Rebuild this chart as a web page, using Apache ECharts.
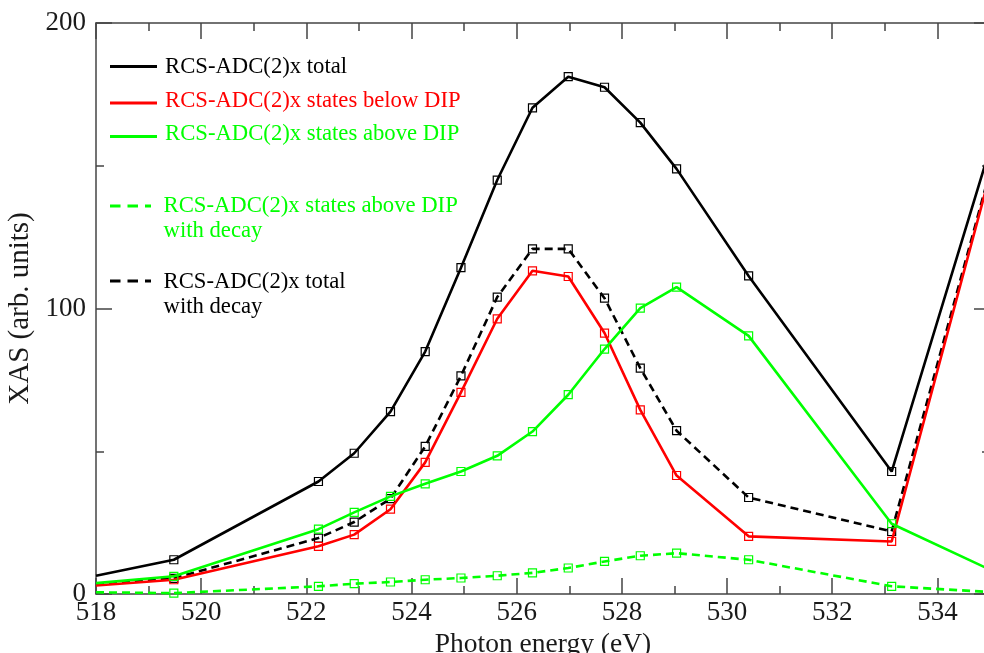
<!DOCTYPE html>
<html>
<head>
<meta charset="utf-8">
<script src="https://cdn.jsdelivr.net/npm/echarts@6/dist/echarts.min.js"></script>
<style>html,body{margin:0;padding:0;background:#fff;overflow:hidden}#c{width:984px;height:653px}</style>
</head>
<body>
<div id="c"></div>
<script>
// Photon energies (eV) of the computed points
const energies = [518, 519.48, 522.23, 522.91, 523.6, 524.26, 524.94, 525.63, 526.3, 526.98, 527.67, 528.35, 529.04, 530.41, 533.13, 535];
// XAS (arb. units)
const totalXAS      = [6.4, 12.0, 39.4, 49.3, 63.9, 84.9, 114.3, 145.0, 170.3, 181.2, 177.5, 165.1, 148.9, 111.4, 42.9, 156.0];
const belowDIP      = [3.0, 5.0, 16.7, 20.8, 29.7, 46.1, 70.6, 96.4, 113.2, 111.2, 91.4, 64.5, 41.5, 20.2, 18.4, 147.0];
const aboveDIP      = [3.8, 6.2, 22.7, 28.6, 34.2, 38.6, 42.9, 48.4, 56.9, 69.8, 85.8, 100.1, 107.5, 90.4, 24.6, 8.5];
const aboveDIPDecay = [0.6, 0.3, 2.7, 3.6, 4.2, 5.0, 5.6, 6.4, 7.4, 9.1, 11.4, 13.4, 14.3, 12.0, 2.7, 0.7];
const totalDecay    = [3.5, 5.5, 19.6, 25.2, 33.4, 51.7, 76.4, 104.0, 120.9, 120.9, 103.6, 79.1, 57.2, 33.8, 21.9, 148.0];

const xTickLabels = [518, 520, 522, 524, 526, 528, 530, 532, 534];
const yTickLabels = [0, 100, 200];

const legendTitles = [
  ['RCS-ADC(2)x total'],
  ['RCS-ADC(2)x states below DIP'],
  ['RCS-ADC(2)x states above DIP'],
  ['RCS-ADC(2)x states above DIP', 'with decay'],
  ['RCS-ADC(2)x total', 'with decay']
];

const BLACK = '#000000', RED = '#ff0000', GREEN = '#00ff00';
const AXIS = '#444444';
const FONT = '"Liberation Serif", "Times New Roman", serif';
const DASH = [8, 5];

function mkSeries(name, vals, color, dashed, z) {
  return {
    name: name,
    type: 'line',
    xAxisIndex: 0, yAxisIndex: 0,
    data: energies.map((x, i) => ({ value: [x, vals[i]], symbolSize: x <= 518 ? 0 : 8 })),
    symbol: 'rect',
    symbolSize: 8,
    showAllSymbol: true,
    clip: true,
    z: z,
    lineStyle: { color: color, width: 2.6, type: dashed ? DASH : 'solid' },
    itemStyle: { color: 'rgba(255,255,255,0)', borderColor: color, borderWidth: 1.2 },
    emphasis: { disabled: true },
    animation: false
  };
}

const lineStyleAxis = { color: AXIS, width: 1.5 };
function xAx(pos, interval, tickLen, withLine, withLabels) {
  const ax = {
    type: 'value', position: pos, min: 518, max: 535, interval: interval,
    axisLine: { show: withLine, onZero: false, lineStyle: lineStyleAxis },
    axisTick: { show: true, inside: true, length: tickLen, lineStyle: lineStyleAxis },
    splitLine: { show: false },
    axisLabel: { show: false }
  };
  if (withLabels) {
    ax.axisLabel = {
      show: true, margin: 5, color: '#1a1a1a', fontFamily: FONT, fontSize: 27,
      formatter: v => xTickLabels.indexOf(v) >= 0 ? String(v) : '',
      hideOverlap: false
    };
    ax.name = 'Photon energy (eV)';
    ax.nameLocation = 'middle';
    ax.nameGap = 33;
    ax.nameTextStyle = { color: '#1a1a1a', fontFamily: FONT, fontSize: 27.5 };
  }
  return ax;
}
function yAx(pos, withLabels) {
  const ax = {
    type: 'value', position: pos, min: 0, max: 200, interval: 100,
    axisLine: { show: true, onZero: false, lineStyle: lineStyleAxis },
    axisTick: { show: true, inside: true, length: 16, lineStyle: lineStyleAxis },
    minorTick: { show: true, splitNumber: 2, length: 8, lineStyle: lineStyleAxis },
    splitLine: { show: false },
    axisLabel: { show: false }
  };
  if (withLabels) {
    ax.axisLabel = {
      show: true, margin: 10, color: '#1a1a1a', fontFamily: FONT, fontSize: 27,
      formatter: v => yTickLabels.indexOf(v) >= 0 ? String(v) : ''
    };
    ax.name = 'XAS (arb. units)';
    ax.nameLocation = 'middle';
    ax.nameGap = 60;
    ax.nameRotate = 90;
    ax.nameTextStyle = { color: '#1a1a1a', fontFamily: FONT, fontSize: 29 };
  }
  return ax;
}

// legend drawing
const legendColors = [BLACK, RED, GREEN, GREEN, BLACK];
const legendDashed = [false, false, false, true, true];
const legendLineY = [66.5, 103, 136.5, 206, 281];
const legendTextY = [67.5, 101.5, 134, 206.5, 282];
const graphics = [];
legendTitles.forEach((lines, i) => {
  graphics.push({
    type: 'line', silent: true,
    shape: { x1: 110, y1: legendLineY[i], x2: legendDashed[i] ? 151 : 157, y2: legendLineY[i] },
    style: { stroke: legendColors[i], lineWidth: 3, lineDash: legendDashed[i] ? [10.5, 7] : null }
  });
  lines.forEach((t, j) => {
    graphics.push({
      type: 'text', silent: true,
      x: legendDashed[i] ? 163.5 : 165, y: legendTextY[i] + j * 25,
      style: { text: t, fill: legendColors[i], fontFamily: FONT, fontSize: 22.7, verticalAlign: 'middle', textVerticalAlign: 'middle' }
    });
  });
});

const chart = echarts.init(document.getElementById('c'), null, { renderer: 'canvas' });
chart.setOption({
  animation: false,
  backgroundColor: '#ffffff',
  grid: { left: 96, right: -6, top: 23, bottom: 59, containLabel: false, outerBoundsMode: 'none' },
  xAxis: [
    xAx('bottom', 2, 16, true, true),
    xAx('bottom', 1, 8, false, false),
    xAx('top', 2, 16, true, false),
    xAx('top', 1, 8, false, false)
  ],
  yAxis: [yAx('left', true), yAx('right', false)],
  series: [
    mkSeries('RCS-ADC(2)x total with decay', totalDecay, BLACK, true, 2),
    mkSeries('RCS-ADC(2)x states above DIP with decay', aboveDIPDecay, GREEN, true, 3),
    mkSeries('RCS-ADC(2)x total', totalXAS, BLACK, false, 4),
    mkSeries('RCS-ADC(2)x states below DIP', belowDIP, RED, false, 5),
    mkSeries('RCS-ADC(2)x states above DIP', aboveDIP, GREEN, false, 6)
  ],
  graphic: graphics
});
</script>
</body>
</html>
